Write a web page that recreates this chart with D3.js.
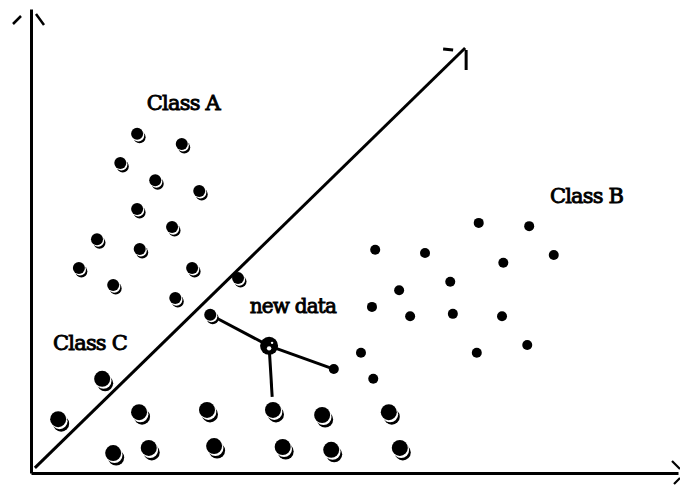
<!DOCTYPE html>
<html><head><meta charset="utf-8">
<script src="https://cdn.jsdelivr.net/npm/d3@7"></script>
<style>html,body{margin:0;padding:0;background:#fff;}svg{display:block;}</style>
</head><body><div id="chart"></div>
<script>
// Feature-space coordinates (arbitrary 0-100 units)
const classA = [[16.4,73.1],[23.3,70.9],[13.8,66.8],[19.2,63.1],[26.0,60.8],[16.4,56.9],[21.8,53.0],
  [10.2,50.4],[16.8,48.3],[7.4,44.2],[24.9,44.2],[32.0,42.0],[12.7,40.5],[22.3,37.7],[27.7,34.1]];
const classB = [[69.2,53.9],[77.0,53.2],[53.2,48.1],[60.9,47.4],[80.8,47.0],[73.0,45.3],[64.8,41.2],
  [56.9,39.4],[52.7,35.8],[58.6,33.8],[65.2,34.3],[72.8,33.8],[51.0,25.9],[68.9,25.9],[76.7,27.6],
  [46.8,22.4],[52.9,20.3]];
const classC = [[11.0,20.3],[4.2,11.6],[16.7,13.1],[27.2,13.6],[37.4,13.6],[45.0,12.5],[55.3,13.1],
  [12.7,4.3],[18.2,5.4],[28.3,5.8],[38.9,5.6],[46.4,5.0],[57.0,5.4]];
const newData = [36.8,27.4];
const neighbors = [[27.7,34.1],[46.8,22.4],[37.4,13.6]];
const boundary = [[0.6,1.1],[67.1,91.6]];
const labelText = ["Class A","Class B","Class C","new data"];
const labelX = [17.9,80.2,3.4,33.8];
const labelY = [78.2,58.2,26.5,34.5];

const W = 680, H = 489;
const svg = d3.select("#chart").append("svg").attr("width",W).attr("height",H);
const x = d3.scaleLinear().domain([0,100]).range([31,678]);
const y = d3.scaleLinear().domain([0,100]).range([473,9]);

// axes (plain lines with open arrow marks)
const axX = d3.axisBottom(x).tickValues([]).tickSizeOuter(0);
const axY = d3.axisLeft(y).tickValues([]).tickSizeOuter(0);
svg.append("g").attr("transform",`translate(0,${y(0)})`).call(axX)
  .select(".domain").attr("stroke","#000").attr("stroke-width",3);
svg.append("g").attr("transform",`translate(${x(0)},0)`).call(axY)
  .select(".domain").attr("stroke","#000").attr("stroke-width",3);

const line = d3.line().x(d=>x(d[0])).y(d=>y(d[1]));
// y-axis arrow marks
const yx = x(0), yt = y(100);
svg.append("path").attr("d",`M${yx-18},${yt+15}L${yx-10},${yt+7}M${yx+5},${yt+5}L${yx+13},${yt+16}`)
  .attr("stroke","#000").attr("stroke-width",2.5).attr("fill","none");
// x-axis arrow marks
const xr = x(100), xb = y(0);
svg.append("path").attr("d",`M${xr-6},${xb-12}L${xr+2},${xb-4}M${xr-4},${xb+11}L${xr+2},${xb+5}`)
  .attr("stroke","#000").attr("stroke-width",2.2).attr("fill","none");

// decision boundary
svg.append("path").attr("d",line(boundary)).attr("stroke","#000").attr("stroke-width",3).attr("fill","none");
const bx = x(boundary[1][0]), by = y(boundary[1][1]);
svg.append("path").attr("d",`M${bx-22},${by+1}L${bx-12},${by+2}M${bx+1},${by+2}L${bx+1},${by+22}`)
  .attr("stroke","#000").attr("stroke-width",3).attr("fill","none");

// neighbour links
const nx = x(newData[0]), ny = y(newData[1]);
neighbors.forEach((p,i)=>{
  let ex = x(p[0]), ey = y(p[1]);
  if(i===2){ // stop short of the dot
    const dx=ex-nx, dy=ey-ny, L=Math.hypot(dx,dy), t=(L-13)/L;
    ex = nx+dx*t; ey = ny+dy*t;
  }
  svg.append("line").attr("x1",nx).attr("y1",ny).attr("x2",ex).attr("y2",ey)
    .attr("stroke","#000").attr("stroke-width",3);
});

// dots with crescent "shadows"
function shadowed(data, r, ox, oy){
  const g = svg.append("g");
  g.selectAll(".s").data(data).join("circle").attr("cx",d=>x(d[0])+ox).attr("cy",d=>y(d[1])+oy)
    .attr("r",r).attr("fill","#000");
  g.selectAll(".w").data(data).join("circle").attr("cx",d=>x(d[0])+ox*0.45).attr("cy",d=>y(d[1])+oy*0.45)
    .attr("r",r).attr("fill","#fff");
  g.selectAll(".d").data(data).join("circle").attr("cx",d=>x(d[0])).attr("cy",d=>y(d[1]))
    .attr("r",r).attr("fill","#000");
}
shadowed(classC, 8, 3, 4.5);
shadowed(classA, 6, 2.5, 3.5);
svg.append("g").selectAll("circle").data(classB).join("circle")
  .attr("cx",d=>x(d[0])).attr("cy",d=>y(d[1])).attr("r",5).attr("fill","#000");

// new data point
svg.append("circle").attr("cx",nx).attr("cy",ny).attr("r",9).attr("fill","#000");
svg.append("circle").attr("cx",nx).attr("cy",ny+2.5).attr("r",2.2).attr("fill","#fff");
svg.append("circle").attr("cx",nx+3).attr("cy",ny-3).attr("r",1.2).attr("fill","#fff");

// labels
svg.append("g").selectAll("text").data(labelText).join("text")
  .attr("x",(d,i)=>x(labelX[i])).attr("y",(d,i)=>y(labelY[i]))
  .attr("font-family","DejaVu Serif").attr("font-size",(d,i)=>i===3?20:21)
  .attr("fill","#000").attr("stroke","#000").attr("stroke-width",0.9)
  .attr("letter-spacing",-0.8).text(d=>d);
</script></body></html>
